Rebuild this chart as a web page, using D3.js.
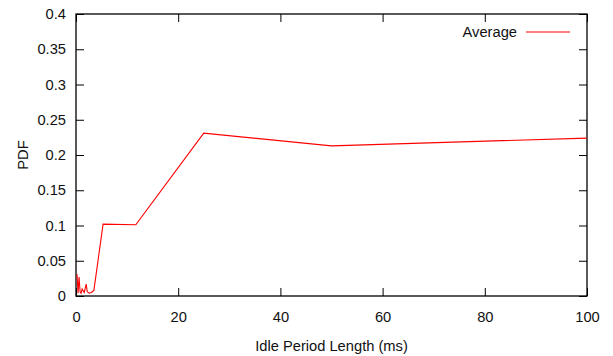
<!DOCTYPE html>
<html>
<head>
<meta charset="utf-8">
<script src="https://cdn.jsdelivr.net/npm/d3@7"></script>
<style>
  body { margin: 0; background: #fff; }
  svg text { font-family: "Liberation Sans", Arial, sans-serif; font-size: 14.7px; fill: #111; }
</style>
</head>
<body>
<div id="chart"></div>
<script>
// data
const idleMs = [0.2, 0.4, 0.6, 0.8, 1.0, 1.2, 1.6, 2.0, 2.2, 2.6, 3.0, 3.5, 5.3, 11.7, 25, 50, 100];
const pdfAvg = [0.031, 0.004, 0.027, 0.006, 0.004, 0.01, 0.005, 0.017, 0.006, 0.004, 0.005, 0.008, 0.102, 0.101, 0.231, 0.213, 0.224];
const xTicks = [0, 20, 40, 60, 80, 100];
const yTicks = [0, 0.05, 0.1, 0.15, 0.2, 0.25, 0.3, 0.35, 0.4];
const seriesName = 'Average';

// layout
const fullWidth = 613;
const fullHeight = 356;
const margin = { top: 14, right: 26, bottom: 60, left: 76 };
const width = fullWidth - margin.left - margin.right;
const height = fullHeight - margin.top - margin.bottom;
const tickLen = 8;

const svg = d3.select('#chart').append('svg')
  .attr('width', fullWidth)
  .attr('height', fullHeight);

const g = svg.append('g')
  .attr('transform', `translate(${margin.left},${margin.top})`);

const x = d3.scaleLinear().domain([0, 100]).range([0, width]);
const y = d3.scaleLinear().domain([0, 0.4]).range([height, 0]);

// ticks, inward, mirrored on top and right (gnuplot style)
const axes = [
  g.append('g').attr('transform', `translate(0,${height})`)
    .call(d3.axisBottom(x).tickValues(xTicks).tickSize(-tickLen).tickPadding(16).tickFormat(d3.format('d'))),
  g.append('g')
    .call(d3.axisLeft(y).tickValues(yTicks).tickSize(-tickLen).tickPadding(10).tickFormat(d => d === 0 ? '0' : String(+d.toFixed(2)))),
  g.append('g')
    .call(d3.axisTop(x).tickValues(xTicks).tickSize(-tickLen).tickFormat('')),
  g.append('g').attr('transform', `translate(${width},0)`)
    .call(d3.axisRight(y).tickValues(yTicks).tickSize(-tickLen).tickFormat(''))
];
axes.forEach(a => {
  a.select('.domain').remove();
  a.selectAll('line').attr('stroke', '#000');
  a.selectAll('text').attr('fill', '#111').style('font-size', '14.7px')
    .style('font-family', '"Liberation Sans", Arial, sans-serif');
});

// frame
g.append('rect')
  .attr('width', width)
  .attr('height', height)
  .attr('fill', 'none')
  .attr('stroke', '#000')
  .attr('stroke-width', 1.3);

// series
const pts = idleMs.map((v, i) => [v, pdfAvg[i]]);
g.append('path')
  .datum(pts)
  .attr('fill', 'none')
  .attr('stroke', '#ff0000')
  .attr('stroke-width', 1.1)
  .attr('d', d3.line().x(d => x(d[0])).y(d => y(d[1])));

// legend
g.append('text')
  .attr('x', 441)
  .attr('y', 18)
  .attr('dy', '0.35em')
  .attr('text-anchor', 'end')
  .text(seriesName);
g.append('line')
  .attr('x1', 450).attr('x2', 494)
  .attr('y1', 18).attr('y2', 18)
  .attr('stroke', '#ff0000')
  .attr('stroke-width', 1.1);

// axis labels
svg.append('text')
  .attr('x', margin.left + width / 2)
  .attr('y', 351)
  .attr('text-anchor', 'middle')
  .text('Idle Period Length (ms)');

svg.append('text')
  .attr('transform', `translate(28,${margin.top + height / 2}) rotate(-90)`)
  .attr('text-anchor', 'middle')
  .text('PDF');
</script>
</body>
</html>
